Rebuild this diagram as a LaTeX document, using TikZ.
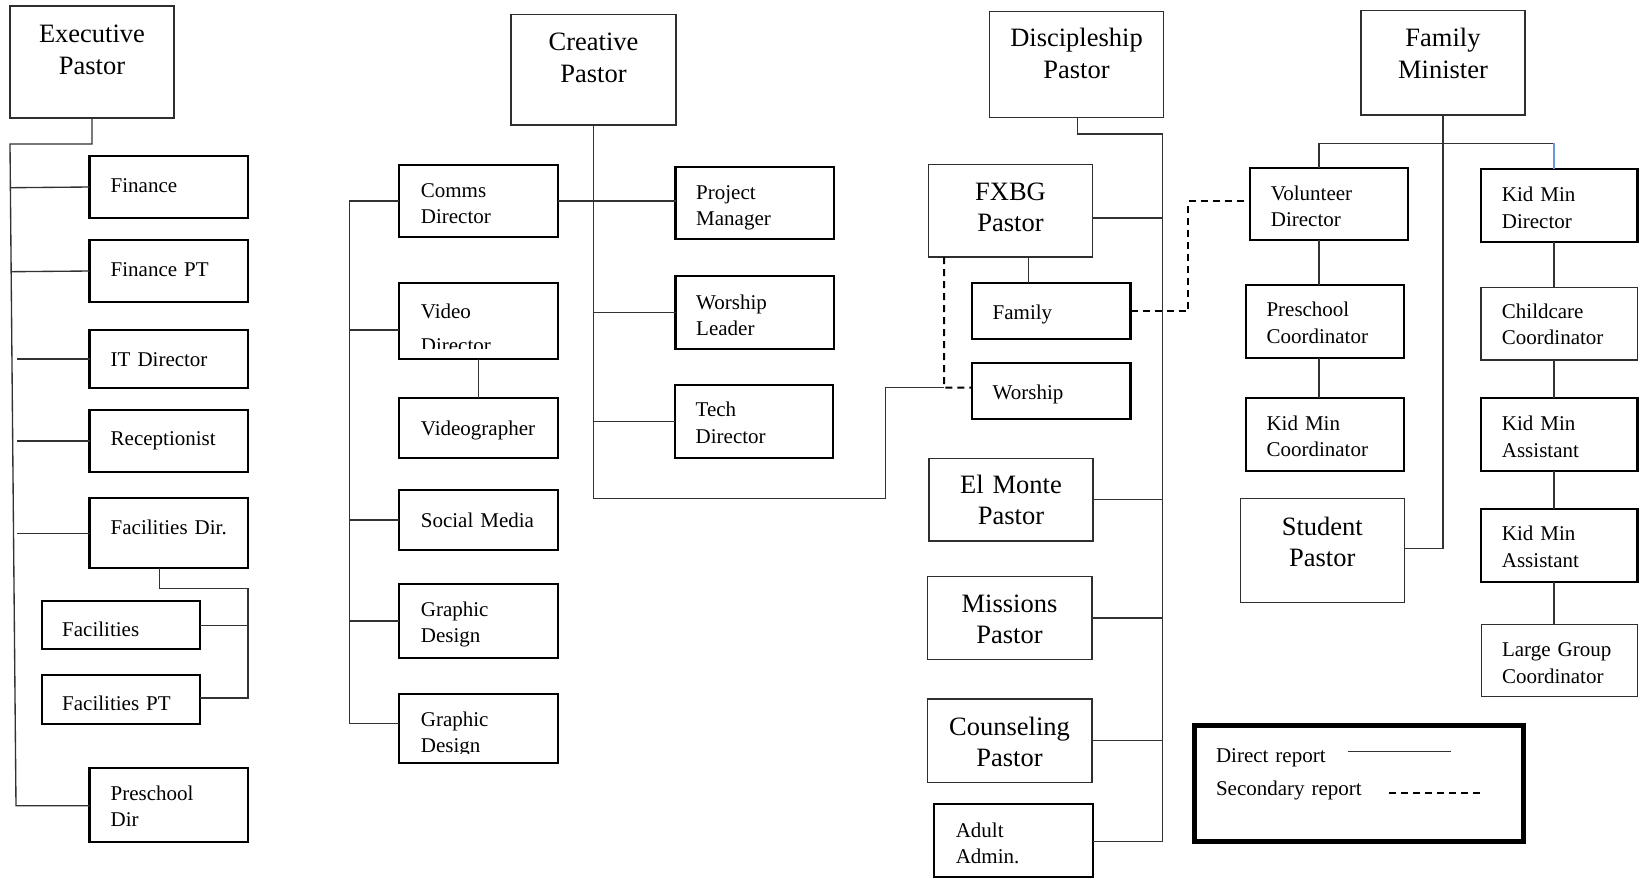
\documentclass[tikz,border=0pt]{standalone}
\usepackage{fontspec}
\setmainfont{Liberation Serif}
\usetikzlibrary{calc}
\definecolor{lnk}{RGB}{50,50,50}
\definecolor{kidblue}{RGB}{110,150,215}
\newcommand\fsS{\fontsize{21}{26.5}\selectfont}
\newcommand\fsT{\fontsize{26.5}{31.6}\selectfont}
\newcommand\bx[6]{\node[#6, minimum width={#4-#2}, minimum height={#5-#3}, anchor=north west] (#1) at (#2,#3) {};}
\tikzset{
  thk/.style={draw=black, line width=2.1pt, inner sep=0pt, outer sep=0pt, rectangle},
  thn/.style={draw=black!82, line width=1.4pt, inner sep=0pt, outer sep=0pt, rectangle},
  legbox/.style={draw=black, line width=5pt, inner sep=0pt, outer sep=0pt, rectangle},
  lt/.style={inner sep=0pt, anchor=base west, text width=150pt, align=left, font=\fsS},
  tt/.style={inner sep=0pt, anchor=base, text width=170pt, align=center, font=\fsT},
  cn/.style={draw=lnk, line width=1.35pt},
  dsh/.style={draw=black, line width=2pt, dash pattern=on 7pt off 5pt},
  blu/.style={draw=kidblue, line width=1.35pt}
}
\begin{document}
\begin{tikzpicture}[x=1pt,y=-1pt]
\fill[white] (0,0) rectangle (1639,879);
\useasboundingbox (0,0) rectangle (1639,879);

% ---------- Column 1 ----------
\bx{exec}{10}{6}{174}{118}{thn}
\node[tt] (exec-t) at (92,42.7) {Executive\\Pastor};
\bx{fin}{89.5}{155.7}{248}{218.3}{thk}
\node[lt] (fin-t) at (110.5,192.7) {Finance};
\bx{finpt}{89.5}{239.7}{248}{302.3}{thk}
\node[lt] (finpt-t) at (110.5,276.5) {Finance PT};
\bx{it}{89.5}{330}{248}{388.3}{thk}
\node[lt] (it-t) at (110.5,366.7) {IT Director};
\bx{rec}{89.5}{410}{248}{472.3}{thk}
\node[lt] (rec-t) at (110.5,445.5) {Receptionist};
\bx{facd}{89.5}{498.3}{248}{568.3}{thk}
\node[lt] (facd-t) at (110.5,534.3) {Facilities Dir.};
\bx{fac}{41.8}{601.3}{200.4}{649.3}{thk}
\node[lt] (fac-t) at (62,636.7) {Facilities};
\bx{facpt}{41.8}{675.3}{200.4}{723.7}{thk}
\node[lt] (facpt-t) at (62,710.7) {Facilities PT};
\bx{pre}{89.5}{768.3}{248}{842.3}{thk}
\node[lt] (pre-t) at (110.5,800) {Preschool\\Dir};

\coordinate (t1a) at (10,144);
\coordinate (t1b) at (16,805.7);
\draw[cn] (exec.south) -- (exec.south |- t1a) -- (t1a) -- (t1b) -- (t1b -| pre.west);
\foreach \n in {fin,finpt}
  \draw[cn] (\n.west) -- ($(t1a)!(\n.west)!(t1b)$);
\foreach \n in {it,rec,facd}
  \draw[cn] (\n.west) -- ++(-73pt,0);
\coordinate (f1) at (248,588.3);
\coordinate (f2) at (248,698);
\draw[cn] ([xshift=-9.15pt]facd.south) |- (f1) -- (f2) -- (f2 -| facpt.east);
\draw[cn] (fac.east) -- (fac.east -| f1);

% ---------- Column 2 ----------
\bx{creat}{511}{14.3}{676}{125}{thn}
\node[tt] (creat-t) at (593.5,50.7) {Creative\\Pastor};
\bx{comms}{399.3}{164.7}{558.2}{237.3}{thk}
\node[lt] (comms-t) at (420.7,197.3) {Comms\\Director};
\bx{video}{399.3}{283}{558.2}{359}{thk}
\begin{scope}
  \clip (399.3,283) rectangle (558.2,348);
  \node[lt] (video-t) at (420.7,318.3) {Video\\[7.2pt]Director};
\end{scope}
\bx{vgr}{399.3}{398.3}{558.2}{458}{thk}
\node[lt] (vgr-t) at (420.7,435.3) {Videographer};
\bx{social}{399.3}{490.3}{558.2}{550}{thk}
\node[lt] (social-t) at (420.7,527.3) {Social Media};
\bx{gd1}{399.3}{583.7}{558.2}{658}{thk}
\node[lt] (gd1-t) at (420.7,616) {Graphic\\Design};
\bx{gd2}{399.3}{693.7}{558.2}{762.7}{thk}
\begin{scope}
  \clip (399.3,693.7) rectangle (558.2,753.5);
  \node[lt] (gd2-t) at (420.7,726) {Graphic\\Design};
\end{scope}
\bx{pm}{675.5}{166.7}{834}{239.3}{thk}
\node[lt] (pm-t) at (696,199.3) {Project\\Manager};
\bx{wl}{675.5}{276}{834}{349}{thk}
\node[lt] (wl-t) at (696,309.3) {Worship\\Leader};
\bx{tech}{675}{385}{833}{457.7}{thk}
\node[lt] (tech-t) at (695.5,416.7) {Tech\\Director};

\coordinate (c2) at (593.5,498.3);
\coordinate (c3) at (885.5,387.7);
\coordinate (jw) at (944,387.7);
\draw[cn] (creat.south) -- (c2) -| (c3) -- (jw);
\draw[cn] (comms.east) -- (comms.east -| pm.west);
\draw[cn] (wl.west) -- (wl.west -| c2);
\draw[cn] (tech.west) -- (tech.west -| c2);
\coordinate (l1) at (349.3,201.3);
\coordinate (l2) at (349.3,723.7);
\draw[cn] (comms.west) -- (comms.west -| l1) -- (l2) -- (l2 -| gd2.west);
\draw[cn] ([yshift=-9pt]video.west) -- ([yshift=-9pt]video.west -| l1);
\draw[cn] (social.west) -- (social.west -| l1);
\draw[cn] (gd1.west) -- (gd1.west -| l1);
\draw[cn] (video.south) -- (vgr.north);

% ---------- Column 3 ----------
\bx{disc}{989.5}{11.7}{1163.5}{117.3}{thn}
\node[tt] (disc-t) at (1076.5,46.7) {Discipleship\\Pastor};
\bx{fxbg}{928.5}{164.7}{1092.6}{257}{thn}
\node[tt] (fxbg-t) at (1010.5,200) {FXBG\\Pastor};
\bx{fam}{972}{282.7}{1130.5}{339}{thk}
\node[lt] (fam-t) at (992.5,319.3) {Family};
\bx{wor}{972}{363.3}{1130.5}{419.3}{thk}
\node[lt] (wor-t) at (992.5,399.3) {Worship};
\bx{elm}{929}{458.3}{1093}{541}{thn}
\node[tt] (elm-t) at (1011,493.3) {El Monte\\Pastor};
\bx{mis}{927.3}{576.3}{1091.8}{659.7}{thn}
\node[tt] (mis-t) at (1009.5,612.3) {Missions\\Pastor};
\bx{cou}{927.3}{699}{1091.8}{782.3}{thn}
\node[tt] (cou-t) at (1009.5,735) {Counseling\\Pastor};
\bx{adm}{934.4}{804}{1093.2}{876.7}{thk}
\node[lt] (adm-t) at (955.6,837.3) {Adult\\Admin.};

\coordinate (d1) at (1162.5,134);
\coordinate (d2) at (1162.5,841.7);
\draw[cn] ([xshift=1pt]disc.south) |- (d1) -- (d2) -- (d2 -| adm.east);
\draw[cn] ([yshift=-7pt]fxbg.east) -- ([yshift=-7pt]fxbg.east -| d1);
\foreach \n in {elm,mis,cou}
  \draw[cn] (\n.east) -- (\n.east -| d1);
\draw[cn] ([xshift=18.2pt]fxbg.south) -- ([xshift=18.2pt]fxbg.south |- fam.north);
\draw[dsh] ([xshift=-66.5pt]fxbg.south) -- (jw) -- (jw -| wor.west);

% ---------- Column 4 ----------
\bx{fmin}{1361}{10.7}{1525}{115}{thn}
\node[tt] (fmin-t) at (1443,46.7) {Family\\Minister};
\bx{vol}{1249.7}{167.7}{1407.7}{240}{thk}
\node[lt] (vol-t) at (1270.7,200.3) {Volunteer\\Director};
\bx{pcoord}{1246}{285.3}{1404.3}{358}{thk}
\node[lt] (pcoord-t) at (1266.3,316.7) {Preschool\\Coordinator};
\bx{kmc}{1246}{397.7}{1404.3}{471}{thk}
\node[lt] (kmc-t) at (1266.3,430) {Kid Min\\Coordinator};
\bx{stu}{1240.3}{498.7}{1404.3}{602.7}{thn}
\node[tt] (stu-t) at (1322.3,535) {Student\\Pastor};
\bx{kmd}{1480.7}{169.3}{1637.5}{241.7}{thk}
\node[lt] (kmd-t) at (1501.7,201.7) {Kid Min\\Director};
\bx{ccc}{1481}{287.3}{1637.5}{360}{thn}
\node[lt] (ccc-t) at (1501.7,318.3) {Childcare\\Coordinator};
\bx{kma1}{1480.7}{398.3}{1637.5}{471}{thk}
\node[lt] (kma1-t) at (1501.7,430.7) {Kid Min\\Assistant};
\bx{kma2}{1480.7}{509.3}{1637.5}{582.3}{thk}
\node[lt] (kma2-t) at (1501.7,540.7) {Kid Min\\Assistant};
\bx{lgc}{1481.6}{624.3}{1637.5}{696.7}{thn}
\node[lt] (lgc-t) at (1501.8,656.7) {Large Group\\Coordinator};

\coordinate (s1) at (1188.3,201);
\draw[dsh] (fam.east) -| (s1) -- (s1 -| vol.west);

\coordinate (m1) at (1443,548.3);
\draw[cn] (fmin.south) -- (m1) -- (m1 -| stu.east);
\coordinate (vx) at (1319,143.3);
\coordinate (kx) at (1554,143.3);
\draw[cn] (vx |- vol.north) -- (vx) -- (kx);
\draw[blu] (kx) -- (kx |- kmd.north);
\draw[cn] (vol.south -| vx) -- (pcoord.north -| vx);
\draw[cn] (pcoord.south -| vx) -- (kmc.north -| vx);
\foreach \a/\b in {kmd/ccc,ccc/kma1,kma1/kma2,kma2/lgc}
  \draw[cn] (\a.south -| kx) -- (\b.north -| kx);

% ---------- Legend ----------
\bx{leg}{1194}{725.5}{1523.3}{841.5}{legbox}
\node[lt] (leg-d) at (1215.8,762.7) {Direct report};
\node[lt] (leg-s) at (1215.8,795) {Secondary report};
\coordinate (ls1) at (1347.7,751.7);
\coordinate (ls2) at (1450.5,751.7);
\draw[cn] (ls1) -- (ls2);
\coordinate (ld1) at (1389.2,792.7);
\coordinate (ld2) at (1480.6,792.7);
\draw[dsh] (ld1) -- (ld2);
\end{tikzpicture}
\end{document}
